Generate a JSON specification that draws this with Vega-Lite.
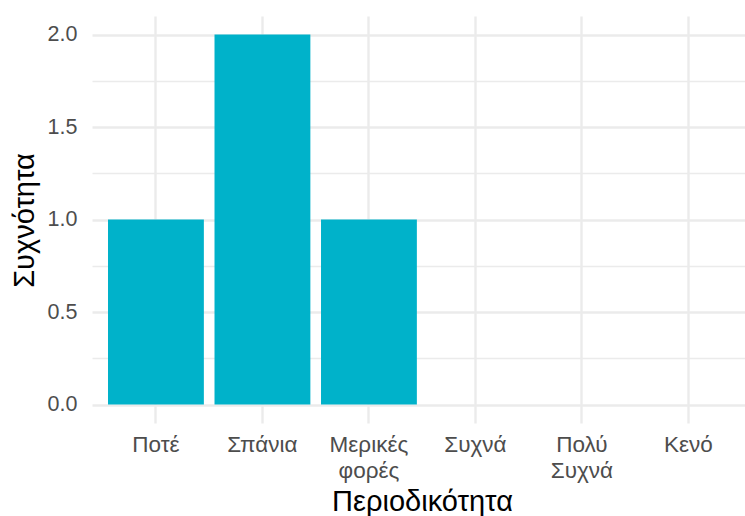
{
  "$schema": "https://vega.github.io/schema/vega-lite/v6.json",
  "width": 653,
  "height": 407,
  "autosize": {"type": "none"},
  "padding": {"left": 92, "top": 16, "right": 0, "bottom": 93},
  "background": "white",
  "data": {
    "values": [
      {"periodikotita": "Ποτέ", "syxnotita": 1},
      {"periodikotita": "Σπάνια", "syxnotita": 2},
      {"periodikotita": "Μερικές φορές", "syxnotita": 1},
      {"periodikotita": "Συχνά", "syxnotita": 0},
      {"periodikotita": "Πολύ Συχνά", "syxnotita": 0},
      {"periodikotita": "Κενό", "syxnotita": 0}
    ]
  },
  "mark": {"type": "bar", "color": "#00B2CA"},
  "encoding": {
    "x": {
      "field": "periodikotita",
      "type": "nominal",
      "sort": null,
      "scale": {
        "domain": ["Ποτέ", "Σπάνια", "Μερικές φορές", "Συχνά", "Πολύ Συχνά", "Κενό"],
        "paddingInner": 0.1,
        "paddingOuter": 0.1156,
        "align": 0.65
      },
      "axis": {
        "title": "Περιοδικότητα",
        "titleFontSize": 29,
        "titleFontWeight": "normal",
        "titleColor": "#000000",
        "titleX": 330,
        "titleY": 87,
        "titleBaseline": "alphabetic",
        "titleAlign": "center",
        "titleAnchor": null,
        "labelFontSize": 22.5,
        "labelColor": "#4D4D4D",
        "labelPadding": 28.7,
        "labelBaseline": "alphabetic",
        "labelLineHeight": 26,
        "labelAngle": 0,
        "labelExpr": "split(datum.label, ' ')",
        "ticks": false,
        "tickSize": 0,
        "domain": false,
        "grid": true,
        "gridColor": "#EBEBEB",
        "gridWidth": 2.4,
        "bandPosition": 0.5
      }
    },
    "y": {
      "field": "syxnotita",
      "type": "quantitative",
      "scale": {"domain": [-0.1, 2.1], "nice": false, "zero": false},
      "axis": {
        "title": "Συχνότητα",
        "titleFontSize": 29,
        "titleFontWeight": "normal",
        "titleColor": "#000000",
        "titleX": -59,
        "titleY": 204,
        "titleAngle": -90,
        "titleBaseline": "alphabetic",
        "titleAlign": "center",
        "titleAnchor": null,
        "values": [0, 0.25, 0.5, 0.75, 1, 1.25, 1.5, 1.75, 2],
        "labelExpr": "datum.value % 0.5 === 0 ? format(datum.value, '.1f') : ''",
        "labelFontSize": 21.5,
        "labelColor": "#4D4D4D",
        "labelPadding": 15,
        "labelBaseline": "middle",
        "labelOverlap": false,
        "ticks": false,
        "tickSize": 0,
        "domain": false,
        "grid": true,
        "gridColor": "#EBEBEB",
        "gridWidth": {"condition": {"test": "datum.value % 0.5 !== 0", "value": 1.4}, "value": 2.4}
      }
    }
  },
  "config": {
    "view": {"stroke": null},
    "font": "Liberation Sans"
  }
}
